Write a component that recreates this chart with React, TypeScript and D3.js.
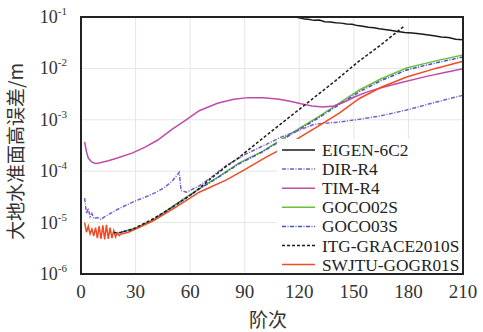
import React, { useEffect, useRef } from 'react';
import * as d3 from 'd3';

// degree / error values
const xTicks = [0, 30, 60, 90, 120, 150, 180, 210];
const yTicks = [-1, -2, -3, -4, -5, -6];

const eigen6c2 = [
  [100, 0.15], [110, 0.112], [116, 0.102], [120, 0.097], [123, 0.091], [125, 0.09], [128, 0.086],
  [131, 0.087], [134, 0.081], [137, 0.08], [140, 0.077], [143, 0.076], [146, 0.073], [149, 0.072],
  [152, 0.068], [155, 0.066], [158, 0.063], [161, 0.062], [164, 0.059], [167, 0.057], [170, 0.055],
  [174, 0.052], [178, 0.05], [182, 0.049], [186, 0.047], [190, 0.045], [194, 0.043], [198, 0.041],
  [202, 0.04], [206, 0.037], [210, 0.036],
];
const dirR4 = [
  [2, 3e-5], [3, 1.5e-5], [4, 1.9e-5], [5, 1.3e-5], [6, 1.5e-5], [7, 1.2e-5], [9, 1.25e-5],
  [11, 1.15e-5], [13, 1.3e-5], [16, 1.5e-5], [20, 1.8e-5], [25, 2.2e-5], [30, 2.65e-5],
  [35, 3.1e-5], [40, 3.7e-5], [45, 4.6e-5], [50, 6.3e-5], [54, 9.5e-5], [55, 4.2e-5],
  [58, 3.9e-5], [65, 5.2e-5], [72, 7.8e-5], [80, 1.3e-4], [90, 2.1e-4], [100, 3.1e-4],
  [110, 4.6e-4], [120, 6.3e-4], [128, 8.1e-4], [131, 8.4e-4], [140, 8.9e-4], [153, 1.02e-3],
  [165, 1.2e-3], [179, 1.55e-3], [195, 2.2e-3], [210, 3e-3],
];
const timR4 = [
  [2, 3.7e-4], [3, 2.4e-4], [4, 1.8e-4], [6, 1.5e-4], [8, 1.42e-4], [10, 1.45e-4], [15, 1.6e-4],
  [20, 1.8e-4], [28, 2.25e-4], [35, 2.9e-4], [42, 4e-4], [50, 6.5e-4], [57, 9.5e-4], [65, 1.5e-3],
  [75, 2.1e-3], [84, 2.5e-3], [92, 2.7e-3], [100, 2.7e-3], [108, 2.55e-3], [115, 2.3e-3],
  [121, 2.05e-3], [127, 1.85e-3], [133, 1.78e-3], [139, 1.85e-3], [145, 2.25e-3], [150, 2.75e-3],
  [157, 3.45e-3], [165, 4.2e-3], [175, 5.2e-3], [190, 7e-3], [200, 8.3e-3], [210, 9.8e-3],
];
const goco02s = [
  [22, 6.6e-6], [30, 7.8e-6], [40, 1.15e-5], [53, 2.4e-5], [65, 4.6e-5], [75, 7.6e-5],
  [87, 1.45e-4], [100, 2.45e-4], [110, 4.1e-4], [120, 6.8e-4], [130, 1.12e-3], [142, 2.1e-3],
  [153, 3.8e-3], [165, 6.3e-3], [179, 1.02e-2], [195, 1.4e-2], [210, 1.82e-2],
];
const goco03s = [
  [22, 6.5e-6], [30, 7.7e-6], [40, 1.13e-5], [53, 2.35e-5], [65, 4.5e-5], [75, 7.4e-5],
  [87, 1.4e-4], [100, 2.4e-4], [110, 3.95e-4], [120, 6.5e-4], [130, 1.06e-3], [142, 1.98e-3],
  [153, 3.5e-3], [165, 5.8e-3], [179, 9.3e-3], [195, 1.28e-2], [210, 1.66e-2],
];
const itgGrace2010s = [
  [18, 6.4e-6], [20, 6.3e-6], [22, 6.5e-6], [26, 7e-6], [30, 7.9e-6], [40, 1.2e-5], [53, 2.3e-5],
  [62, 3.8e-5], [71, 7e-5], [80, 1.25e-4], [86, 1.75e-4], [100, 4.4e-4], [120, 1.6e-3],
  [140, 5.8e-3], [153, 1.4e-2], [165, 2.9e-2], [178, 6.8e-2],
];
const swjtuGogr01s = [
  [2, 1e-5], [3, 6.5e-6], [4, 8.5e-6], [5, 6e-6], [6, 7.5e-6], [7, 5.5e-6], [8, 8e-6], [9, 5e-6],
  [10, 8.5e-6], [11, 4.8e-6], [12, 8.8e-6], [13, 4.7e-6], [14, 9e-6], [15, 4.8e-6], [16, 8e-6],
  [17, 5e-6], [18, 7e-6], [19, 5.3e-6], [20, 6.3e-6], [21, 5.6e-6], [22, 6e-6], [24, 6.2e-6],
  [26, 6.5e-6], [30, 7.5e-6], [40, 1.1e-5], [53, 2.1e-5], [65, 3.9e-5], [80, 6.8e-5],
  [90, 1.07e-4], [102, 1.9e-4], [112, 2.9e-4], [120, 4.5e-4], [130, 7.4e-4], [142, 1.35e-3],
  [153, 2.6e-3], [165, 4.3e-3], [179, 6.8e-3], [195, 1e-2], [210, 1.38e-2],
];

const series = [
  { name: 'EIGEN-6C2', data: eigen6c2, color: '#1a1a1a', dash: null },
  { name: 'DIR-R4', data: dirR4, color: '#7b5bd0', dash: '4,1.5,1,1.5' },
  { name: 'TIM-R4', data: timR4, color: '#c04aaa', dash: null },
  { name: 'GOCO02S', data: goco02s, color: '#6cbf3c', dash: null },
  { name: 'GOCO03S', data: goco03s, color: '#4650c8', dash: '4,1.5,1,1.5' },
  { name: 'ITG-GRACE2010S', data: itgGrace2010s, color: '#1a1a1a', dash: '3,2' },
  { name: 'SWJTU-GOGR01S', data: swjtuGogr01s, color: '#ee4a24', dash: null },
];
// drawing order (bottom to top)
const drawOrder = ['GOCO02S', 'GOCO03S', 'TIM-R4', 'DIR-R4', 'EIGEN-6C2', 'SWJTU-GOGR01S', 'ITG-GRACE2010S'];

const W = 483, H = 332;
const serif = '"Liberation Serif", "Times New Roman", serif';
const cjk = '"Noto Sans CJK SC", sans-serif';

export default function App() {
  const ref = useRef<SVGSVGElement>(null);

  useEffect(() => {
    const margin = { top: 17, right: 20, bottom: 58, left: 81 };
    const x = d3.scaleLinear().domain([0, 210]).range([margin.left, W - margin.right]);
    const y = d3.scaleLog().domain([1e-6, 1e-1]).range([H - margin.bottom, margin.top]);

    const svg = d3.select(ref.current);
    svg.selectAll('*').remove();

    svg.append('defs').append('clipPath').attr('id', 'plot-clip')
      .append('rect')
      .attr('x', x(0)).attr('y', y(1e-1))
      .attr('width', x(210) - x(0)).attr('height', y(1e-6) - y(1e-1));

    // grid
    const grid = svg.append('g').attr('stroke', '#e6e6e6').attr('stroke-width', 1);
    xTicks.slice(1, -1).forEach(t => {
      grid.append('line').attr('x1', x(t)).attr('x2', x(t)).attr('y1', y(1e-1)).attr('y2', y(1e-6));
    });
    yTicks.slice(1, -1).forEach(e => {
      grid.append('line').attr('x1', x(0)).attr('x2', x(210)).attr('y1', y(10 ** e)).attr('y2', y(10 ** e));
    });

    // curves
    const line = d3.line<number[]>()
      .x(d => x(d[0]))
      .y(d => y(d[1]));
    const lines = svg.append('g').attr('clip-path', 'url(#plot-clip)');
    drawOrder.forEach(n => {
      const s = series.find(v => v.name === n)!;
      lines.append('path')
        .datum(s.data)
        .attr('fill', 'none')
        .attr('stroke', s.color)
        .attr('stroke-width', 1.5)
        .attr('stroke-dasharray', s.dash)
        .attr('d', line);
    });

    // legend
    const lg = svg.append('g');
    const lx = 280, ly = 150, step = 19.1;
    lg.append('rect')
      .attr('x', lx - 3).attr('y', ly - 11)
      .attr('width', x(210) - lx + 2).attr('height', y(1e-6) - ly + 10)
      .attr('fill', '#fff');
    series.forEach((s, i) => {
      const yy = ly + i * step;
      lg.append('line')
        .attr('x1', lx + 2).attr('x2', lx + 35).attr('y1', yy).attr('y2', yy)
        .attr('stroke', s.color).attr('stroke-width', 1.5)
        .attr('stroke-dasharray', s.dash);
      lg.append('text')
        .attr('x', lx + 42).attr('y', yy + 6)
        .attr('font-family', serif).attr('font-size', 17.3).attr('fill', '#222')
        .text(s.name);
    });

    // frame
    svg.append('rect')
      .attr('x', x(0)).attr('y', y(1e-1))
      .attr('width', x(210) - x(0)).attr('height', y(1e-6) - y(1e-1))
      .attr('fill', 'none').attr('stroke', '#222').attr('stroke-width', 2);

    // x ticks
    xTicks.forEach(t => {
      svg.append('text')
        .attr('x', x(t)).attr('y', H - margin.bottom + 24)
        .attr('text-anchor', 'middle')
        .attr('font-family', serif).attr('font-size', 19).attr('fill', '#333')
        .text(t);
    });

    // y ticks
    yTicks.forEach(e => {
      const t = svg.append('text')
        .attr('x', x(0) - 14).attr('y', y(10 ** e) + 6)
        .attr('text-anchor', 'end')
        .attr('font-family', serif).attr('font-size', 18).attr('fill', '#333');
      t.append('tspan').text('10');
      t.append('tspan').attr('dy', -8).attr('font-size', 11).text(String(e));
    });

    // axis titles
    svg.append('text')
      .attr('x', (x(0) + x(210)) / 2 - 4).attr('y', 327)
      .attr('text-anchor', 'middle')
      .attr('font-family', cjk).attr('font-size', 19).attr('fill', '#333')
      .text('阶次');
    svg.append('text')
      .attr('transform', `translate(23,${(y(1e-1) + y(1e-6)) / 2 + 6}) rotate(-90)`)
      .attr('text-anchor', 'middle')
      .attr('font-family', cjk).attr('font-size', 19).attr('fill', '#333')
      .text('大地水准面高误差/m');
  }, []);

  return (
    <svg ref={ref} width={W} height={H}
      style={{ position: 'absolute', left: 0, top: 0, background: '#fff' }} />
  );
}
